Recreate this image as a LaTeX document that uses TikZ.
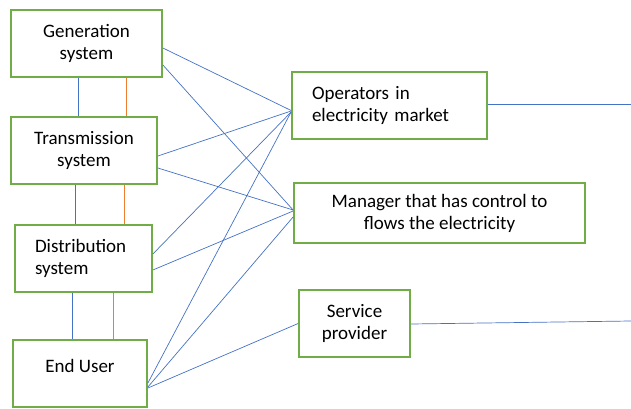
\documentclass[tikz,border=0pt]{standalone}
\usepackage{fontspec}
\setmainfont{Carlito}
\usepackage{tikz}
\usetikzlibrary{positioning}

\definecolor{boxgreen}{HTML}{70AD47}
\definecolor{linkblue}{HTML}{4472C4}
\definecolor{linkorange}{HTML}{ED7D31}

\begin{document}
\begin{tikzpicture}[x=1pt, y=-1pt,
    part/.style={rectangle, draw=boxgreen, line width=1.8pt, text=black,
      font=\fontsize{19}{22}\selectfont, align=center, inner sep=0pt},
    link/.style={draw=linkblue, line width=0.7pt},
    flow/.style={draw=linkorange, line width=0.9pt}]
    \useasboundingbox (0,0) rectangle (631,409);

    \node[part, minimum width=151pt, minimum height=67pt] (gen) at (86.5,43.5) {Generation\\system};
    \node[part, minimum width=146pt, minimum height=67pt] (trans) at (84,150.5) {Transmission\\system};
    \node[part, minimum width=137pt, minimum height=67pt, text width=97pt, align=left] (dist) at (83.5,258.5) {Distribution\\system};
    \node[part, minimum width=134pt, minimum height=67pt, text depth=16pt] (user) at (80,373.5) {End User};

    \node[part, minimum width=195pt, minimum height=67pt, text width=155pt, align=left] (oper) at (389.5,105.5) {Operators in\\electricity market};
    \node[part, minimum width=291pt, minimum height=60pt] (mgr) at (439.5,213) {Manager that has control to\\flows the electricity};
    \node[part, minimum width=111pt, minimum height=67pt] (serv) at (354.5,323.5) {Service\\provider};

    \coordinate (operout) at (631,104);
    \coordinate (servout) at (631,321);

    % chain of the system
    \draw[link] ([xshift=-8.5pt]gen.south) -- ([xshift=-8.5pt]gen.south |- trans.north);
    \draw[flow] ([xshift=39.5pt]gen.south) -- ([xshift=39.5pt]gen.south |- trans.north);
    \draw[link] ([xshift=-9pt]trans.south) -- ([xshift=-9pt]trans.south |- dist.north);
    \draw[flow] ([xshift=40pt]trans.south) -- ([xshift=40pt]trans.south |- dist.north);
    \draw[link] ([xshift=-11.5pt]dist.south) -- ([xshift=-11.5pt]dist.south |- user.north);
    \draw[flow] ([xshift=29.5pt]dist.south) -- ([xshift=29.5pt]dist.south |- user.north);

    % links to the market side
    \draw[link] ([yshift=-4.5pt]gen.east) -- ([yshift=-5pt]oper.west);
    \draw[link] ([yshift=-21.5pt]gen.east) -- ([yshift=3pt]mgr.west);
    \draw[link] ([yshift=-5.5pt]trans.east) -- ([yshift=-5.5pt]oper.west);
    \draw[link] ([yshift=-17.5pt]trans.east) -- ([yshift=3pt]mgr.west);
    \draw[link] ([yshift=4.5pt]dist.east) -- ([yshift=-6.5pt]oper.west);
    \draw[link] ([yshift=-11.5pt]dist.east) -- ([yshift=2pt]mgr.west);
    \draw[link] ([yshift=-9.5pt]user.east) -- ([yshift=-6.5pt]oper.west);
    \draw[link] ([yshift=-13.5pt]user.east) -- ([yshift=-4pt]mgr.west);
    \draw[link] ([yshift=-14.5pt]user.east) -- (serv.west);

    \draw[link] ([yshift=1.5pt]oper.east) -- (operout);
    \draw[link] ([yshift=-0.5pt]serv.east) -- (servout);
\end{tikzpicture}
\end{document}
